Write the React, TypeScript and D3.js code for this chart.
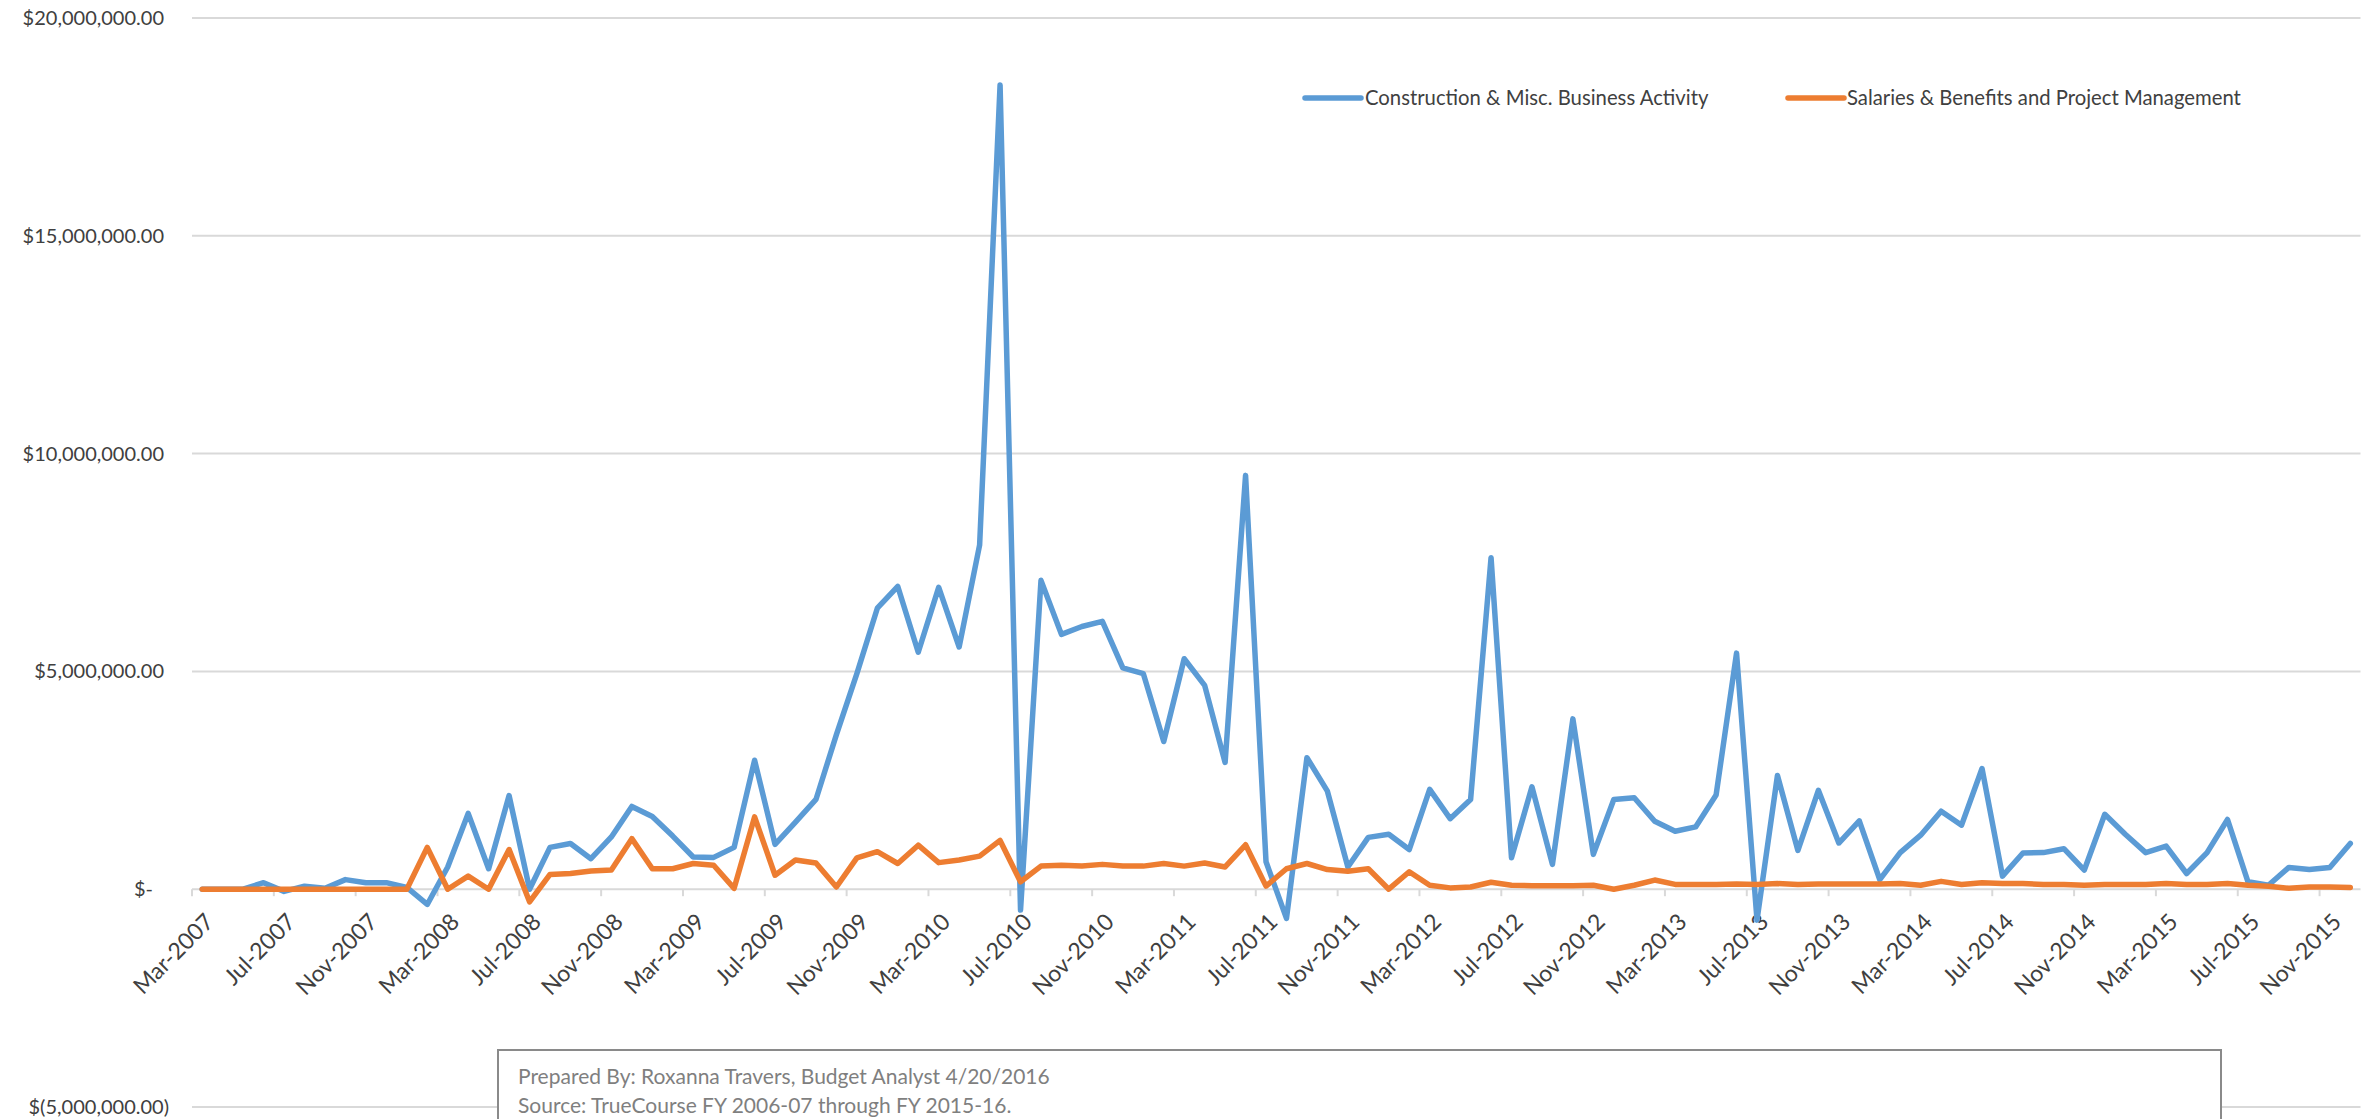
import React, { useEffect } from 'react';
import * as d3 from 'd3';

// ---------- data ----------
const months: Date[] = d3.timeMonths(new Date(2007, 2, 1), new Date(2016, 0, 1)); // Mar-2007 .. Dec-2015

const construction: number[] = [
  0, 0, 0, 150000, -50000, 70000, 20000, 220000, 150000, 150000,
  40000, -350000, 510000, 1740000, 470000, 2150000, 0, 960000, 1050000, 700000,
  1200000, 1900000, 1670000, 1220000, 740000, 730000, 960000, 2960000, 1030000, 1540000,
  2060000, 3550000, 4950000, 6450000, 6950000, 5440000, 6930000, 5560000, 7900000, 18460000,
  -480000, 7090000, 5850000, 6030000, 6150000, 5080000, 4950000, 3390000, 5290000, 4680000,
  2910000, 9500000, 630000, -670000, 3020000, 2250000, 510000, 1190000, 1260000, 910000,
  2290000, 1620000, 2060000, 7610000, 720000, 2350000, 570000, 3910000, 800000, 2060000,
  2100000, 1560000, 1330000, 1430000, 2160000, 5420000, -710000, 2610000, 890000, 2270000,
  1060000, 1570000, 220000, 840000, 1240000, 1790000, 1470000, 2770000, 300000, 830000,
  840000, 930000, 440000, 1720000, 1260000, 840000, 990000, 360000, 840000, 1600000,
  170000, 90000, 500000, 450000, 500000, 1050000,
];

const salaries: number[] = [
  0, 0, 0, 0, 0, 0, 0, 0, 0, 0,
  0, 960000, 0, 300000, 0, 910000, -290000, 340000, 360000, 420000,
  440000, 1160000, 470000, 470000, 590000, 550000, 20000, 1660000, 320000, 670000,
  600000, 50000, 720000, 860000, 590000, 1010000, 610000, 670000, 760000, 1120000,
  170000, 530000, 550000, 530000, 570000, 530000, 530000, 590000, 530000, 600000,
  510000, 1020000, 70000, 470000, 590000, 450000, 410000, 470000, 0, 400000,
  90000, 30000, 50000, 160000, 90000, 80000, 80000, 80000, 90000, 0,
  90000, 210000, 110000, 110000, 110000, 120000, 110000, 130000, 110000, 120000,
  120000, 120000, 120000, 130000, 90000, 180000, 110000, 150000, 130000, 130000,
  110000, 110000, 90000, 110000, 110000, 110000, 130000, 110000, 110000, 130000,
  90000, 70000, 20000, 50000, 50000, 40000,
];

const xTickLabels: string[] = [
  'Mar-2007', 'Jul-2007', 'Nov-2007', 'Mar-2008', 'Jul-2008', 'Nov-2008', 'Mar-2009',
  'Jul-2009', 'Nov-2009', 'Mar-2010', 'Jul-2010', 'Nov-2010', 'Mar-2011', 'Jul-2011',
  'Nov-2011', 'Mar-2012', 'Jul-2012', 'Nov-2012', 'Mar-2013', 'Jul-2013', 'Nov-2013',
  'Mar-2014', 'Jul-2014', 'Nov-2014', 'Mar-2015', 'Jul-2015', 'Nov-2015',
];

const yTickValues: number[] = [-5000000, 0, 5000000, 10000000, 15000000, 20000000];
const yTickLabels: string[] = [
  '$(5,000,000.00)', '$-', '$5,000,000.00', '$10,000,000.00', '$15,000,000.00', '$20,000,000.00',
];

const seriesNames: string[] = [
  'Construction & Misc. Business Activity',
  'Salaries & Benefits and Project Management',
];
const seriesColors: string[] = ['#5B9BD5', '#ED7D31'];

const noteLines: string[] = [
  'Prepared By: Roxanna Travers, Budget Analyst 4/20/2016',
  'Source: TrueCourse FY 2006-07 through FY 2015-16.',
];

// ---------- layout ----------
const W = 2371;
const H = 1119;
const plotLeft = 192;
const plotRight = 2360.5;
const FONT = 'Lato, "Open Sans", sans-serif';
const TEXT = '#404040';
const GRID = '#d9d9d9';

export default function App() {
  useEffect(() => {
    document.body.style.margin = '0';
    document.body.style.overflow = 'hidden';
  }, []);

  const idx = d3.range(months.length);
  const x = d3.scaleBand<number>().domain(idx).range([plotLeft, plotRight]).padding(0);
  const y = d3.scaleLinear().domain([-5000000, 20000000]).range([1107, 18]);
  const cx = (i: number) => (x(i) as number) + x.bandwidth() / 2;

  const line = d3
    .line<number>()
    .x((_, i) => cx(i))
    .y((d) => y(d));

  const series = [construction, salaries];
  const y0 = y(0);
  const tickIdx = idx.filter((i) => i % 4 === 0);

  return (
    <svg
      width={W}
      height={H}
      viewBox={`0 0 ${W} ${H}`}
      style={{ position: 'absolute', left: 0, top: 0, background: '#fff' }}
      fontFamily={FONT}
    >
      <rect x={0} y={0} width={W} height={H} fill="#fff" />
      {/* gridlines */}
      {yTickValues.map((v) => (
        <line key={v} x1={plotLeft} x2={plotRight} y1={y(v)} y2={y(v)} stroke={GRID} strokeWidth={2} />
      ))}
      {/* y labels */}
      {yTickValues.map((v, k) => (
        <text
          key={'yl' + v}
          x={v === 0 ? 153 : v < 0 ? 169 : 164}
          y={y(v)}
          dy="0.35em"
          textAnchor="end"
          fontSize={20}
          fill={TEXT}
        >
          {yTickLabels[k]}
        </text>
      ))}
      {/* x ticks */}
      {tickIdx.map((i) => (
        <line key={'t' + i} x1={x(i)} x2={x(i)} y1={y0} y2={y0 + 7} stroke={GRID} strokeWidth={2} />
      ))}
      {/* x labels */}
      {tickIdx.map((i, k) => {
        const ax = cx(i) + 13;
        const ay = y0 + 34;
        return (
          <text
            key={'xl' + i}
            x={ax}
            y={ay}
            textAnchor="end"
            fontSize={23}
            fill={TEXT}
            transform={`rotate(-45 ${ax} ${ay})`}
          >
            {xTickLabels[k]}
          </text>
        );
      })}
      {/* lines */}
      {series.map((s, k) => (
        <path
          key={'s' + k}
          d={line(s) || ''}
          fill="none"
          stroke={seriesColors[k]}
          strokeWidth={5.5}
          strokeLinejoin="round"
          strokeLinecap="round"
        />
      ))}
      {/* legend */}
      {[
        { lx: 1305, tx: 1365 },
        { lx: 1788, tx: 1847 },
      ].map((p, k) => (
        <g key={'lg' + k}>
          <line x1={p.lx} x2={p.lx + 56} y1={98} y2={98} stroke={seriesColors[k]} strokeWidth={5.5} strokeLinecap="round" />
          <text x={p.tx} y={98} dy="0.35em" fontSize={20.3} fill={TEXT}>
            {seriesNames[k]}
          </text>
        </g>
      ))}
      {/* note box */}
      <rect x={498} y={1050} width={1723} height={120} fill="#fff" stroke="#8a8a8a" strokeWidth={2} />
      {noteLines.map((t, k) => (
        <text key={'n' + k} x={518} y={1077 + k * 28.5} dy="0.35em" fontSize={21} fill="#7f7f7f">
          {t}
        </text>
      ))}
    </svg>
  );
}
